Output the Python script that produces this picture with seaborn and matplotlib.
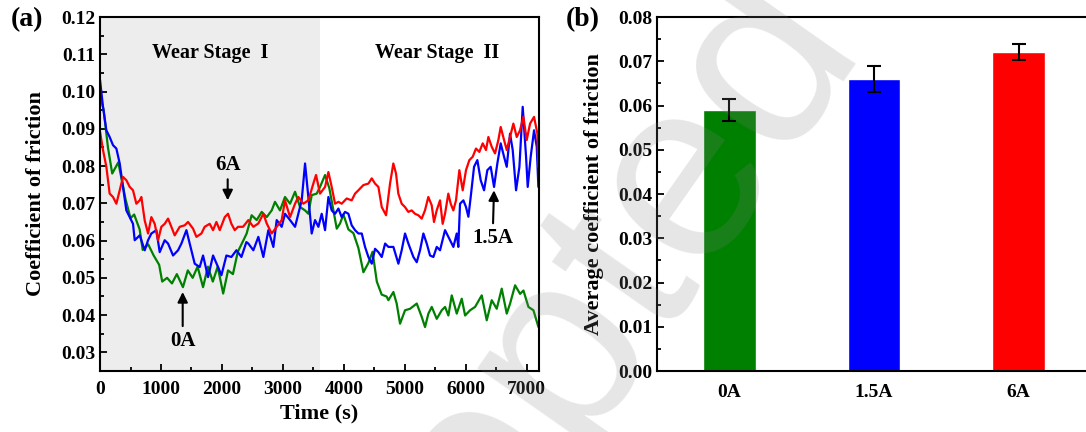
import numpy as np
import pandas as pd
import seaborn as sns
import matplotlib.pyplot as plt
from matplotlib.ticker import MultipleLocator, FormatStrFormatter

# friction curves (time in s, COF)
t_0a = [0, 60, 130, 200, 300, 360, 420, 500, 560, 650, 700, 790, 880, 970, 1020, 1100, 1180,
        1260, 1360, 1440, 1520, 1600, 1690, 1770, 1850, 1930, 2020, 2100, 2180, 2260, 2350,
        2405, 2487, 2570, 2652, 2734, 2816, 2870, 2952, 3034, 3117, 3199, 3281, 3363, 3417,
        3472, 3554, 3609, 3691, 3762, 3828, 3883, 3937, 3992, 4074, 4156, 4238, 4320, 4402,
        4470, 4540, 4620, 4700, 4730, 4812, 4866, 4921, 5003, 5085, 5195, 5277, 5331, 5386,
        5441, 5523, 5605, 5660, 5714, 5769, 5851, 5933, 5988, 6070, 6152, 6261, 6343, 6425,
        6507, 6589, 6671, 6726, 6808, 6890, 6945, 7027, 7109, 7191]
cof_0a = [0.099, 0.095, 0.085, 0.078, 0.081, 0.076, 0.071, 0.066, 0.067, 0.063, 0.0575, 0.059,
          0.056, 0.0535, 0.049, 0.050, 0.0485, 0.051, 0.0475, 0.052, 0.050, 0.053, 0.0475,
          0.053, 0.049, 0.053, 0.0458, 0.052, 0.051, 0.057, 0.060, 0.0619, 0.0668, 0.0655,
          0.0677, 0.0663, 0.0681, 0.0704, 0.0681, 0.0717, 0.0699, 0.0731, 0.069, 0.0681,
          0.0672, 0.0722, 0.0726, 0.0744, 0.0776, 0.074, 0.0681, 0.0632, 0.0646, 0.067, 0.063,
          0.062, 0.058, 0.0515, 0.054, 0.057, 0.049, 0.0455, 0.045, 0.0440, 0.0462, 0.0431,
          0.0377, 0.0413, 0.0417, 0.0431, 0.0395, 0.0368, 0.0404, 0.0422, 0.0390, 0.0413,
          0.0422, 0.0399, 0.0453, 0.0404, 0.0444, 0.0399, 0.0413, 0.0422, 0.0453, 0.0386,
          0.0440, 0.0417, 0.0471, 0.0404, 0.0431, 0.048, 0.0457, 0.0466, 0.0422, 0.0413, 0.0368]

t_15a = [0, 49, 104, 158, 213, 268, 323, 377, 432, 487, 541, 569, 651, 733, 788, 842, 924, 979,
         1061, 1116, 1198, 1280, 1335, 1417, 1471, 1553, 1635, 1690, 1772, 1854, 1936, 1991,
         2073, 2155, 2237, 2319, 2401, 2433, 2515, 2597, 2679, 2761, 2843, 2898, 2980, 3034,
         3117, 3199, 3253, 3308, 3363, 3417, 3472, 3527, 3582, 3636, 3691, 3746, 3800, 3855,
         3910, 3964, 4019, 4074, 4128, 4183, 4238, 4293, 4347, 4402, 4457, 4511, 4566, 4621,
         4676, 4730, 4812, 4894, 4948, 5003, 5058, 5140, 5195, 5249, 5304, 5359, 5413, 5468,
         5523, 5577, 5659, 5714, 5796, 5851, 5877, 5905, 5960, 6003, 6042, 6080, 6135, 6189,
         6244, 6299, 6353, 6408, 6463, 6517, 6572, 6627, 6671, 6725, 6769, 6824, 6879, 6933,
         6988, 7015, 7064, 7119, 7163, 7190]
cof_15a = [0.1031, 0.0959, 0.0896, 0.0878, 0.0856, 0.0847, 0.0807, 0.0744, 0.0681, 0.0663,
           0.0645, 0.0601, 0.0614, 0.0574, 0.0601, 0.0619, 0.0628, 0.0569, 0.0601, 0.0592,
           0.0560, 0.0574, 0.0592, 0.0628, 0.0592, 0.0538, 0.0529, 0.0560, 0.0502, 0.0560,
           0.0529, 0.0507, 0.0560, 0.0556, 0.0574, 0.0556, 0.0596, 0.0592, 0.0574, 0.0610,
           0.0556, 0.0628, 0.0583, 0.0655, 0.0637, 0.0672, 0.0655, 0.0637, 0.0672, 0.0708,
           0.0807, 0.0717, 0.0619, 0.0655, 0.0637, 0.0672, 0.0628, 0.0717, 0.0681, 0.0672,
           0.0686, 0.0663, 0.0677, 0.0672, 0.0641, 0.0628, 0.0619, 0.0619, 0.0583, 0.0556,
           0.0538, 0.0578, 0.0569, 0.0556, 0.0592, 0.0583, 0.0583, 0.0538, 0.0574, 0.0619,
           0.0592, 0.0556, 0.0542, 0.0574, 0.0619, 0.0592, 0.0560, 0.0556, 0.0583, 0.0574,
           0.0628, 0.0610, 0.0583, 0.0619, 0.0583, 0.0699, 0.0708, 0.0690, 0.0664, 0.0717,
           0.0798, 0.0816, 0.0762, 0.0735, 0.0789, 0.0798, 0.0744, 0.0807, 0.0861, 0.0825,
           0.0798, 0.0887, 0.0843, 0.0735, 0.0798, 0.0959, 0.0825, 0.0744, 0.0825, 0.0896,
           0.0852, 0.0744]

t_6a = [0, 49, 104, 158, 213, 268, 323, 377, 432, 487, 541, 596, 651, 678, 733, 788, 842, 897,
        952, 1006, 1061, 1116, 1170, 1225, 1307, 1389, 1444, 1526, 1581, 1663, 1717, 1799, 1854,
        1909, 1964, 2046, 2100, 2155, 2210, 2264, 2346, 2433, 2515, 2597, 2679, 2734, 2816,
        2898, 2980, 3034, 3117, 3199, 3253, 3335, 3417, 3499, 3543, 3609, 3691, 3746, 3800,
        3855, 3910, 3964, 4046, 4128, 4183, 4238, 4320, 4402, 4457, 4511, 4566, 4621, 4692,
        4757, 4811, 4855, 4893, 4948, 5002, 5057, 5112, 5166, 5221, 5276, 5330, 5385, 5440,
        5478, 5522, 5577, 5620, 5659, 5713, 5752, 5795, 5839, 5894, 5949, 6003, 6058, 6113,
        6167, 6222, 6277, 6331, 6370, 6424, 6479, 6534, 6572, 6627, 6671, 6725, 6780, 6835,
        6889, 6944, 6999, 7054, 7119, 7174, 7190]
cof_6a = [0.0892, 0.0843, 0.0798, 0.0726, 0.0717, 0.0699, 0.0735, 0.0771, 0.0762, 0.0744,
          0.0735, 0.0699, 0.0708, 0.0717, 0.0654, 0.0619, 0.0663, 0.0645, 0.0601, 0.0637,
          0.0645, 0.0659, 0.0637, 0.0614, 0.0637, 0.0641, 0.0650, 0.0632, 0.0610, 0.0619,
          0.0637, 0.0645, 0.0628, 0.0650, 0.0628, 0.0663, 0.0672, 0.0645, 0.0628, 0.0637,
          0.0637, 0.0655, 0.0637, 0.0646, 0.0672, 0.0646, 0.0619, 0.0637, 0.0655, 0.0708,
          0.0663, 0.0699, 0.0717, 0.0699, 0.0708, 0.0753, 0.0776, 0.0726, 0.0744, 0.0784,
          0.0744, 0.0699, 0.0704, 0.0699, 0.0713, 0.0708, 0.0726, 0.0735, 0.0749, 0.0753,
          0.0767, 0.0753, 0.0744, 0.0690, 0.0668, 0.0753, 0.0807, 0.0780, 0.0726, 0.0699,
          0.0690, 0.0677, 0.0681, 0.0672, 0.0668, 0.0659, 0.0681, 0.0717, 0.0695, 0.0650,
          0.0681, 0.0708, 0.0645, 0.0672, 0.0726, 0.0699, 0.0681, 0.0708, 0.0789, 0.0735,
          0.0789, 0.0816, 0.0825, 0.0847, 0.0838, 0.0861, 0.0843, 0.0878, 0.0852, 0.0834,
          0.0870, 0.0905, 0.0870, 0.0843, 0.0878, 0.0914, 0.0878, 0.0896, 0.0932, 0.0870,
          0.0914, 0.0932, 0.0887, 0.0798]

# average COF with error bars
currents = ['0A', '1.5A', '6A']
avg_cof = [0.059, 0.066, 0.072]
avg_err = [0.0025, 0.003, 0.0018]
colors = ['#008000', '#0000ff', '#ff0000']

sns.set_style('ticks')
plt.rcParams['font.family'] = ['Liberation Serif', 'DejaVu Serif']
plt.rcParams['font.weight'] = 'bold'
plt.rcParams['axes.labelweight'] = 'bold'
plt.rcParams['text.color'] = 'black'
plt.rcParams['axes.labelcolor'] = 'black'

df = pd.concat([
    pd.DataFrame({'t': t_0a, 'cof': cof_0a, 'current': '0A'}),
    pd.DataFrame({'t': t_15a, 'cof': cof_15a, 'current': '1.5A'}),
    pd.DataFrame({'t': t_6a, 'cof': cof_6a, 'current': '6A'}),
])

fig = plt.figure(figsize=(10.86, 4.32), dpi=100)
ax1 = fig.add_axes([0.0921, 0.1412, 0.4042, 0.8194])
ax2 = fig.add_axes([0.605, 0.1412, 0.3996, 0.8194])

# ---- (a) COF vs time
ax1.axvspan(0, 3600, color='#ededed', lw=0, zorder=0)
sns.lineplot(data=df, x='t', y='cof', hue='current', hue_order=currents, palette=colors,
             lw=1.6, legend=False, ax=ax1, sort=False)
ax1.set_xlim(0, 7200)
ax1.set_ylim(0.025, 0.12)
ax1.xaxis.set_major_locator(MultipleLocator(1000))
ax1.xaxis.set_minor_locator(MultipleLocator(500))
ax1.yaxis.set_major_locator(MultipleLocator(0.01))
ax1.yaxis.set_minor_locator(MultipleLocator(0.005))
ax1.yaxis.set_major_formatter(FormatStrFormatter('%.2f'))
ax1.set_xlabel('Time (s)', fontsize=16)
ax1.set_ylabel('Coefficient of friction', fontsize=16)
ax1.xaxis.set_label_coords(0.5, -0.093)
ax1.yaxis.set_label_coords(-0.123, 0.5)

ax1.text(1800, 0.1103, 'Wear Stage  I', ha='center', va='center', fontsize=14.5)
ax1.text(5530, 0.1103, 'Wear Stage  II', ha='center', va='center', fontsize=14.5)

arrow = dict(arrowstyle='-|>', color='black', lw=1.5, mutation_scale=15, shrinkA=1, shrinkB=0)
ax1.annotate('6A', xy=(2094, 0.0708), xytext=(2094, 0.0777), ha='center', va='bottom',
             fontsize=15, arrowprops=arrow)
ax1.annotate('0A', xy=(1356, 0.0462), xytext=(1356, 0.0358), ha='center', va='top',
             fontsize=15, arrowprops=arrow)
ax1.annotate('1.5A', xy=(6462, 0.0735), xytext=(6440, 0.0634), ha='center', va='top',
             fontsize=15, arrowprops=arrow)

# ---- (b) average COF
sns.barplot(x=currents, y=avg_cof, hue=currents, palette=colors, width=0.365,
            saturation=1, legend=False, ax=ax2)
ax2.errorbar(range(len(currents)), avg_cof, yerr=avg_err, fmt='none', ecolor='black',
             elinewidth=1.5, capsize=5, capthick=1.5)
ax2.set_xlim(-0.5, 2.5)
ax2.set_ylim(0, 0.08)
ax2.yaxis.set_major_locator(MultipleLocator(0.01))
ax2.yaxis.set_minor_locator(MultipleLocator(0.005))
ax2.yaxis.set_major_formatter(FormatStrFormatter('%.2f'))
ax2.set_ylabel('Average coefficient of friction', fontsize=16)
ax2.yaxis.set_label_coords(-0.122, 0.5)

for ax in (ax1, ax2):
    for s in ax.spines.values():
        s.set_linewidth(1.5)
        s.set_color('black')
    ax.tick_params(which='both', direction='in', width=1.3, labelsize=14, top=False, right=False,
                   colors='black', labelcolor='black')
    ax.tick_params(which='major', length=5)
    ax.tick_params(which='minor', length=3)
    ax.tick_params(axis='x', pad=7)
ax2.tick_params(axis='x', which='both', length=0, pad=9)

fig.text(27 / 1086, 1 - 20 / 432, '(a)', fontsize=20, ha='center', va='center')
fig.text(583 / 1086, 1 - 20 / 432, '(b)', fontsize=20, ha='center', va='center')

# faint watermark
fig.text(0.465, -0.04, 'Accepted', fontsize=185, rotation=55, family='Liberation Sans',
         weight='normal', color='#808080', alpha=0.2, ha='center', va='center',
         rotation_mode='anchor', zorder=10)

fig.savefig('out.png', dpi=100)
